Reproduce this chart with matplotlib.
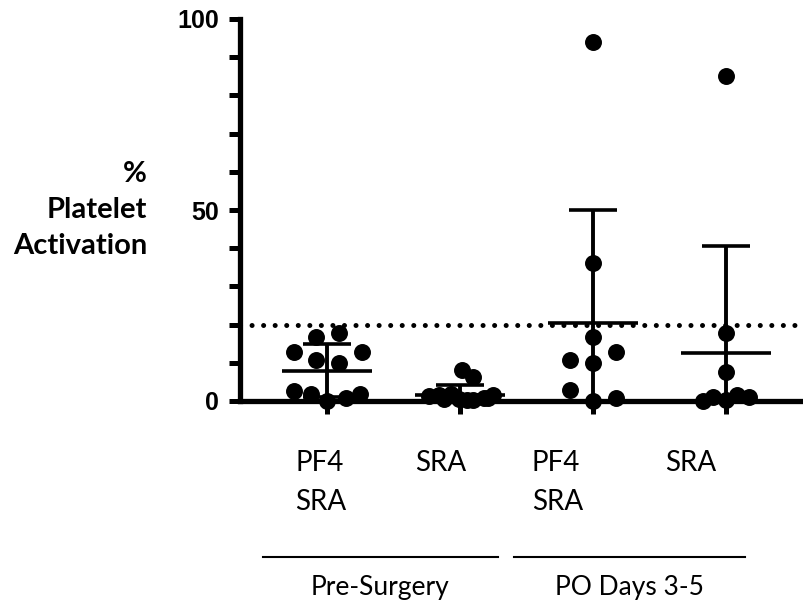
import numpy as np
import matplotlib
matplotlib.use('Agg')
import matplotlib.pyplot as plt

# %%
# Values (percent platelet activation)

groups = ['PF4\nSRA', 'SRA', 'PF4\nSRA', 'SRA']
periods = ['Pre-Surgery', 'PO Days 3-5']

pre_pf4 = [17.7, 16.8, 12.7, 12.7, 10.7, 9.9, 2.7, 1.8, 1.8, 0.7, 0.0]
pre_sra = [8.1, 6.2, 1.2, 1.6, 1.8, 0.4, 0.2, 0.8, 1.5, 0.3, 0.6, 0.9]
po_pf4 = [94.0, 36.0, 16.8, 12.9, 10.7, 9.9, 2.9, 0.9, 0.0]
po_sra = [85.0, 17.9, 7.7, 0.1, 1.1, 0.3, 1.6, 1.1]

# horizontal spread of the column scatter (x offset from group centre)
pre_pf4_dx = [0.09, -0.08, -0.25, 0.26, -0.08, 0.09, -0.25, -0.12, 0.25, 0.14, 0.0]
pre_sra_dx = [0.015, 0.10, -0.235, -0.16, -0.065, -0.01, 0.10, 0.18, 0.25, 0.05, -0.12, 0.21]
po_pf4_dx = [0.0, 0.0, 0.0, 0.17, -0.17, 0.0, -0.17, 0.17, 0.0]
po_sra_dx = [0.0, 0.0, 0.0, -0.17, -0.095, 0.0, 0.08, 0.17]

# mean and SD as drawn
means = [7.9, 1.5, 20.3, 12.6]
sds = [6.9, 2.8, 29.7, 27.9]

threshold = 20

values = [pre_pf4, pre_sra, po_pf4, po_sra]
offsets = [pre_pf4_dx, pre_sra_dx, po_pf4_dx, po_sra_dx]
xpos = np.arange(1, 5)

# %%
W, H = 804, 612
fig = plt.figure(figsize=(W / 100, H / 100), dpi=100)
ax = fig.add_axes([240 / W, 1 - 401 / H, 1 - 240 / W, (401 - 19) / H])

for x, vals, dx in zip(xpos, values, offsets):
    ax.scatter(x + np.array(dx), vals, s=125, color='black', zorder=4, clip_on=False)

for x, m, sd in zip(xpos, means, sds):
    ax.plot([x - 0.335, x + 0.335], [m, m], color='black', lw=2.6, solid_capstyle='butt', zorder=3)
    ax.plot([x, x], [m - sd, m + sd], color='black', lw=2.8, solid_capstyle='butt', zorder=3)
    ax.plot([x - 0.177, x + 0.177], [m + sd, m + sd], color='black', lw=2.6, solid_capstyle='butt', zorder=3)
    ax.plot([x - 0.177, x + 0.177], [m - sd, m - sd], color='black', lw=2.6, solid_capstyle='butt', zorder=3)

ax.axhline(threshold, color='black', lw=3.6, linestyle=(0, (0.01, 2.3)),
           dash_capstyle='round', zorder=2)

ax.set_xlim(1 - 87 / 133, 1 + 477 / 133)
ax.set_ylim(0, 100)

for side in ['top', 'right']:
    ax.spines[side].set_visible(False)
for side in ['left', 'bottom']:
    ax.spines[side].set_linewidth(3.8)
    ax.spines[side].set_zorder(5)

ax.set_yticks(np.arange(0, 101, 10))
ax.set_yticklabels([str(v) if v % 50 == 0 else '' for v in range(0, 101, 10)],
                   fontfamily='Liberation Sans', fontweight='bold', fontsize=18)
ax.tick_params(axis='y', length=8, width=3.6, pad=7)
ax.set_xticks(xpos)
ax.set_xticklabels([])
ax.tick_params(axis='x', length=9, width=3.6)

# %%
# category labels, brackets and period labels below the axis

label_left = [295, 415, 532, 665]
for px, lab in zip(label_left, groups):
    fig.text(px / W, 1 - 450 / H, lab, ha='left', va='top', fontsize=20,
             fontfamily='Lato', linespacing=1.6)

for (x0, x1), name in zip([(263, 498), (514, 745)], periods):
    fig.add_artist(plt.Line2D([x0 / W, x1 / W], [1 - 557 / H, 1 - 557 / H],
                              color='black', lw=1.5))
    fig.text((x0 + x1) / 2 / W, 1 - 588 / H, name, ha='center', va='center',
             fontsize=19, fontfamily='Lato')

fig.text(147 / W, 1 - 210 / H, '%\nPlatelet\nActivation', ha='right', va='center',
         ma='right', fontsize=21, fontweight='bold', fontfamily='Lato', linespacing=1.5)

fig.savefig('out.png', dpi=100)
